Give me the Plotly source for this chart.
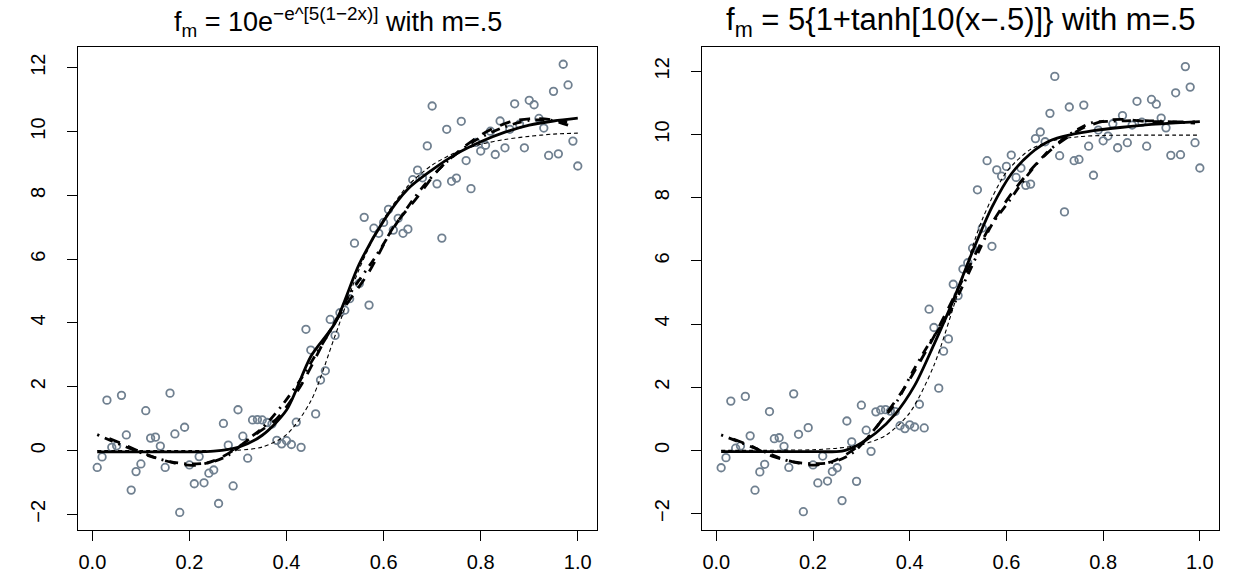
import plotly.graph_objects as go

# ---------------- data ----------------
x_pts = [0.01, 0.02, 0.03, 0.04, 0.05, 0.06, 0.07, 0.08, 0.09, 0.10,
         0.11, 0.12, 0.13, 0.14, 0.15, 0.16, 0.17, 0.18, 0.19, 0.20,
         0.21, 0.22, 0.23, 0.24, 0.25, 0.26, 0.27, 0.28, 0.29, 0.30,
         0.31, 0.32, 0.33, 0.34, 0.35, 0.36, 0.37, 0.38, 0.39, 0.40,
         0.41, 0.42, 0.43, 0.44, 0.45, 0.46, 0.47, 0.48, 0.49, 0.50,
         0.51, 0.52, 0.53, 0.54, 0.55, 0.56, 0.57, 0.58, 0.59, 0.60,
         0.61, 0.62, 0.63, 0.64, 0.65, 0.66, 0.67, 0.68, 0.69, 0.70,
         0.71, 0.72, 0.73, 0.74, 0.75, 0.76, 0.77, 0.78, 0.79, 0.80,
         0.81, 0.82, 0.83, 0.84, 0.85, 0.86, 0.87, 0.88, 0.89, 0.90,
         0.91, 0.92, 0.93, 0.94, 0.95, 0.96, 0.97, 0.98, 0.99, 1.00]

y_left = [-0.53, -0.20, 1.58, 0.10, 0.15, 1.73, 0.49, -1.24, -0.66, -0.42,
          1.25, 0.39, 0.42, 0.14, -0.53, 1.80, 0.52, -1.94, 0.73, -0.45,
          -1.04, -0.19, -1.01, -0.71, -0.61, -1.66, 0.85, 0.17, -1.11, 1.28,
          0.45, -0.24, 0.96, 0.97, 0.96, 0.88, 0.83, 0.32, 0.21, 0.31,
          0.19, 0.89, 0.10, 3.80, 3.15, 1.15, 2.21, 2.50, 4.11, 3.61,
          4.32, 4.40, 4.76, 6.50, 5.24, 7.31, 4.56, 6.97, 6.81, 7.15,
          7.56, 6.91, 7.28, 6.81, 6.94, 8.49, 8.79, 8.55, 9.55, 10.80,
          8.36, 6.66, 10.07, 8.44, 8.54, 10.32, 9.09, 8.21, 9.66, 9.39,
          9.57, 10.01, 9.28, 10.33, 9.49, 10.07, 10.87, 10.23, 9.49, 10.98,
          10.84, 10.41, 10.11, 9.25, 11.26, 9.30, 12.11, 11.46, 9.70, 8.92]

y_right = [-0.55, -0.23, 1.56, 0.07, 0.14, 1.71, 0.46, -1.26, -0.68, -0.44,
           1.23, 0.37, 0.40, 0.13, -0.54, 1.79, 0.51, -1.94, 0.72, -0.46,
           -1.03, -0.18, -0.97, -0.67, -0.55, -1.59, 0.93, 0.27, -0.98, 1.43,
           0.64, -0.03, 1.22, 1.28, 1.29, 1.24, 1.23, 0.78, 0.69, 0.81,
           0.74, 1.46, 0.71, 4.47, 3.89, 1.97, 3.14, 3.53, 5.26, 4.90,
           5.74, 5.94, 6.40, 8.25, 7.04, 9.17, 6.46, 8.88, 8.68, 8.99,
           9.35, 8.64, 8.94, 8.39, 8.43, 9.87, 10.08, 9.77, 10.67, 11.84,
           9.33, 7.55, 10.87, 9.17, 9.21, 10.93, 9.63, 8.71, 10.14, 9.80,
           9.95, 10.34, 9.58, 10.60, 9.74, 10.30, 11.05, 10.39, 9.63, 11.11,
           10.96, 10.52, 10.21, 9.34, 11.32, 9.36, 12.15, 11.50, 9.74, 8.94]

# curves, left panel
lt_x = [0.01, 0.05, 0.10, 0.15, 0.20, 0.25, 0.30, 0.35, 0.40, 0.45, 0.50,
        0.55, 0.60, 0.65, 0.70, 0.75, 0.80, 0.85, 0.90, 0.95, 1.00]
lt_y = [0.00, 0.00, 0.00, 0.00, 0.00, 0.00, 0.01, 0.11, 0.50, 1.55, 3.60,
        5.70, 7.25, 8.30, 8.95, 9.35, 9.60, 9.75, 9.85, 9.92, 9.95]
ls_x = [0.01, 0.05, 0.10, 0.15, 0.20, 0.25, 0.30, 0.35, 0.40, 0.45, 0.50,
        0.55, 0.60, 0.65, 0.70, 0.75, 0.80, 0.85, 0.90, 0.95, 1.00]
ls_y = [-0.04, -0.04, -0.04, -0.04, -0.04, -0.02, 0.10, 0.48, 1.27, 2.95, 4.00,
        5.85, 7.20, 8.20, 8.80, 9.30, 9.68, 9.98, 10.20, 10.33, 10.42]
ll_x = [0.035, 0.06, 0.09, 0.12, 0.15, 0.19, 0.22, 0.26, 0.30, 0.34, 0.38, 0.43,
        0.48, 0.52, 0.57, 0.62, 0.67, 0.71, 0.76, 0.81, 0.86, 0.90, 0.94, 0.98]
ll_y = [0.38, 0.22, 0.02, -0.17, -0.32, -0.45, -0.45, -0.26, 0.10, 0.55, 1.00, 2.05,
        3.50, 4.50, 5.60, 7.00, 7.95, 8.75, 9.45, 9.98, 10.30, 10.40, 10.38, 10.20]
ld_x = [0.01, 0.04, 0.08, 0.12, 0.16, 0.20, 0.24, 0.28, 0.32, 0.35, 0.39, 0.43,
        0.46, 0.49, 0.53, 0.58, 0.63, 0.68, 0.73, 0.79, 0.85, 0.90, 0.95, 0.99]
ld_y = [0.50, 0.30, 0.05, -0.18, -0.35, -0.42, -0.38, -0.15, 0.35, 0.70, 1.40, 2.25,
        3.00, 3.75, 4.90, 6.00, 7.20, 8.25, 9.05, 9.73, 10.15, 10.35, 10.35, 10.28]

# curves, right panel
rt_x = [0.01, 0.05, 0.10, 0.15, 0.20, 0.25, 0.30, 0.35, 0.40, 0.45, 0.50,
        0.55, 0.60, 0.65, 0.70, 0.75, 0.80, 0.85, 0.90, 0.95, 1.00]
rt_y = [0.00, 0.00, 0.00, 0.01, 0.02, 0.07, 0.18, 0.47, 1.19, 2.69, 5.00,
        7.31, 8.81, 9.53, 9.82, 9.93, 9.97, 9.98, 9.98, 9.98, 9.98]
rs_x = [0.01, 0.10, 0.20, 0.26, 0.29, 0.33, 0.37, 0.41, 0.45, 0.49, 0.53,
        0.57, 0.61, 0.65, 0.69, 0.73, 0.78, 0.84, 0.90, 0.95, 1.00]
rs_y = [-0.04, -0.04, -0.04, -0.02, 0.15, 0.55, 1.15, 2.05, 3.35, 4.75, 6.30,
        7.70, 8.75, 9.40, 9.80, 9.98, 10.12, 10.23, 10.32, 10.37, 10.41]
rl_x = [0.035, 0.07, 0.117, 0.15, 0.186, 0.21, 0.24, 0.262, 0.29, 0.316, 0.357, 0.39,
        0.419, 0.45, 0.474, 0.522, 0.564, 0.611, 0.66, 0.708, 0.763, 0.81, 0.838,
        0.886, 0.94, 0.99]
rl_y = [0.36, 0.15, -0.19, -0.33, -0.45, -0.46, -0.35, -0.19, 0.10, 0.44, 1.28, 2.00,
        2.75, 3.60, 4.32, 5.79, 7.04, 8.14, 9.04, 9.72, 10.24, 10.45, 10.48,
        10.42, 10.40, 10.40]
rd_x = [0.01, 0.05, 0.10, 0.153, 0.20, 0.24, 0.28, 0.31, 0.337, 0.375, 0.406, 0.44,
        0.481, 0.52, 0.543, 0.57, 0.605, 0.639, 0.68, 0.728, 0.776, 0.82, 0.873,
        0.92, 0.969, 0.99]
rd_y = [0.49, 0.25, -0.05, -0.35, -0.42, -0.38, -0.10, 0.35, 0.86, 1.59, 2.49, 3.38,
        4.32, 5.55, 6.31, 7.15, 7.88, 8.62, 9.37, 9.98, 10.37, 10.42, 10.44,
        10.42, 10.38, 10.36]

x_ticks = [0.0, 0.2, 0.4, 0.6, 0.8, 1.0]
x_ticktext = ["0.0", "0.2", "0.4", "0.6", "0.8", "1.0"]
y_ticks = [-2, 0, 2, 4, 6, 8, 10, 12]
y_ticktext = ["\u22122", "0", "2", "4", "6", "8", "10", "12"]

title_left = "f<sub>m</sub> = 10e<sup>\u2212e^[5(1\u22122x)]</sup> with m=.5"
title_right = "f<sub>m</sub> = 5{1+tanh[10(x\u2212.5)]} with m=.5"

# ---------------- figure ----------------
W, H = 1233, 576
FONT = "Liberation Sans, Arial, sans-serif"
fig = go.Figure()

def add_panel(xa, ya, yp, curves):
    fig.add_trace(go.Scatter(x=x_pts, y=yp, mode="markers", xaxis=xa, yaxis=ya,
                             marker=dict(symbol="circle-open", size=7.5, color="#708090",
                                         line=dict(width=1.8, color="#708090")),
                             showlegend=False, hoverinfo="skip"))
    for cx, cy, w, dash in curves:
        fig.add_trace(go.Scatter(x=cx, y=cy, mode="lines", xaxis=xa, yaxis=ya,
                                 line=dict(color="black", width=w, dash=dash, shape="spline", smoothing=0.8),
                                 showlegend=False, hoverinfo="skip"))

add_panel("x", "y", y_left, [
    (lt_x, lt_y, 1.1, "4px,3px"),
    (ll_x, ll_y, 2.8, "11px,9px"),
    (ld_x, ld_y, 2.8, "2px,6px,9px,6px"),
    (ls_x, ls_y, 2.8, "solid"),
])
add_panel("x2", "y2", y_right, [
    (rt_x, rt_y, 1.1, "4px,3px"),
    (rl_x, rl_y, 2.8, "11px,9px"),
    (rd_x, rd_y, 2.8, "2px,6px,9px,6px"),
    (rs_x, rs_y, 2.8, "solid"),
])

top, bottom = 47, 530
ydom = [1 - bottom / H, 1 - top / H]

def xaxis(dom):
    return dict(domain=dom, range=[-0.0296, 1.0396], tickvals=x_ticks, ticktext=x_ticktext,
                showline=True, linecolor="black", linewidth=1.2, mirror=True,
                ticks="outside", ticklen=10, tickwidth=1.2, tickcolor="black",
                showgrid=False, zeroline=False, ticklabelstandoff=4,
                tickfont=dict(family=FONT, size=20, color="black"), fixedrange=True)

def yaxis(anchor, rng):
    return dict(domain=ydom, range=rng, anchor=anchor, tickvals=y_ticks, ticktext=y_ticktext,
                showline=True, linecolor="black", linewidth=1.2, mirror=True,
                ticks="outside", ticklen=10, tickwidth=1.2, tickcolor="black",
                showgrid=False, zeroline=False, tickangle=-90, ticklabelstandoff=14,
                tickfont=dict(family=FONT, size=20, color="black"), fixedrange=True)

fig.update_layout(
    width=W, height=H, margin=dict(l=0, r=0, t=0, b=0),
    paper_bgcolor="white", plot_bgcolor="white",
    xaxis=dict(xaxis([78 / W, 597 / W]), anchor="y"),
    yaxis=yaxis("x", [-2.49, 12.65]),
    xaxis2=dict(xaxis([702 / W, 1219 / W]), anchor="y2"),
    yaxis2=yaxis("x2", [-2.52, 12.77]),
    font=dict(family=FONT, color="black"),
    annotations=[
        dict(text=title_left, x=(78 + 597) / 2 / W, y=1 - 22 / H, xref="paper", yref="paper",
             xanchor="center", yanchor="middle", showarrow=False,
             font=dict(family=FONT, size=27, color="black")),
        dict(text=title_right, x=(702 + 1219) / 2 / W, y=1 - 22 / H, xref="paper", yref="paper",
             xanchor="center", yanchor="middle", showarrow=False,
             font=dict(family=FONT, size=31, color="black")),
    ],
)

fig.write_html("out.html")
